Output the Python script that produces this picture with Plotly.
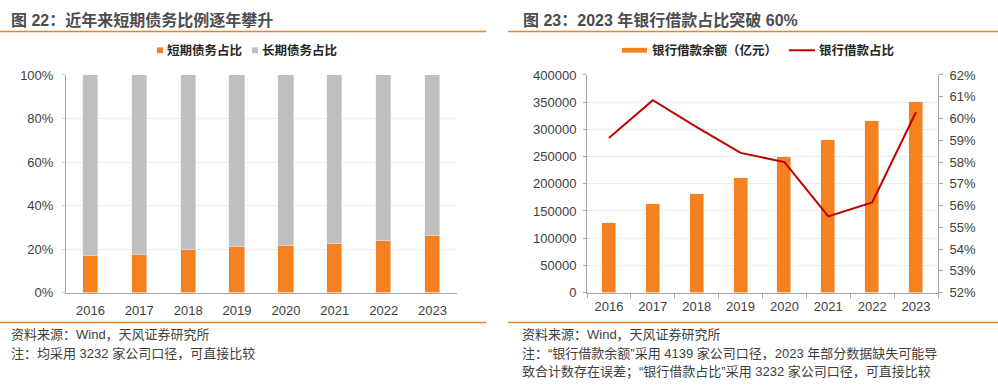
import plotly.graph_objects as go

W, H = 998, 391

years = ["2016", "2017", "2018", "2019", "2020", "2021", "2022", "2023"]
short_ratio = [0.168, 0.172, 0.196, 0.208, 0.214, 0.222, 0.236, 0.258]
long_ratio = [1 - v for v in short_ratio]
bank_loan = [128000, 162000, 181500, 210300, 249800, 280500, 315200, 350500]
bank_loan_ratio = [0.591, 0.6084, 0.596, 0.5842, 0.580, 0.555, 0.5614, 0.603]

title_left = "图 22：近年来短期债务比例逐年攀升"
title_right = "图 23：2023 年银行借款占比突破 60%"
legend_left = ["短期债务占比", "长期债务占比"]
legend_right = ["银行借款余额（亿元）", "银行借款占比"]
notes_left = ["资料来源：Wind，天风证券研究所", "注：均采用 3232 家公司口径，可直接比较"]
notes_right = ["资料来源：Wind，天风证券研究所",
               "注：“银行借款余额”采用 4139 家公司口径，2023 年部分数据缺失可能导",
               "致合计数存在误差；“银行借款占比”采用 3232 家公司口径，可直接比较"]

ORANGE = "#F5821F"
GRAY = "#BFBFBF"
RED = "#C00000"
LINE = "#E8822E"
AXIS = "#A6A6A6"
GRID = "#EDEDED"
TXT = "#404040"
FONT = "Liberation Sans, Noto Sans CJK SC, sans-serif"


def px(x):
    return x / W


def py(y):
    return 1 - y / H


fig = go.Figure()

fig.add_trace(go.Bar(x=years, y=short_ratio, name=legend_left[0], marker_color=ORANGE,
                     width=0.31, xaxis="x", yaxis="y", showlegend=False))
fig.add_trace(go.Bar(x=years, y=long_ratio, name=legend_left[1], marker_color=GRAY,
                     width=0.31, xaxis="x", yaxis="y", showlegend=False))
fig.add_trace(go.Bar(x=years, y=bank_loan, name=legend_right[0], marker_color=ORANGE,
                     width=0.32, xaxis="x2", yaxis="y2", showlegend=False))
fig.add_trace(go.Scatter(x=years, y=bank_loan_ratio, name=legend_right[1], mode="lines",
                         line=dict(color=RED, width=2), xaxis="x2", yaxis="y3", showlegend=False))

ydom = [py(297), py(70.7)]
tickfont = dict(family=FONT, size=13, color=TXT)

fig.update_layout(
    width=W, height=H, autosize=False,
    margin=dict(l=0, r=0, t=0, b=0),
    paper_bgcolor="white", plot_bgcolor="white",
    barmode="stack", bargap=0,
    font=dict(family=FONT, size=13, color=TXT),
    xaxis=dict(domain=[px(66), px(457)], anchor="y", type="category",
               showline=True, linecolor=AXIS, linewidth=1, ticks="",
               tickfont=tickfont, ticklabelstandoff=6, showgrid=False),
    yaxis=dict(domain=ydom, anchor="x", range=[0, 1], dtick=0.2, tickformat=".0%",
               showline=True, linecolor=AXIS, linewidth=1, ticks="outside",
               ticklen=3, tickcolor="#D0D0D0",
               gridcolor=GRID, gridwidth=1, zeroline=False,
               tickfont=tickfont, ticklabelstandoff=6),
    xaxis2=dict(domain=[px(587), px(938)], anchor="y2", type="category",
                showline=True, linecolor=AXIS, linewidth=1, ticks="outside",
                tickson="boundaries", ticklen=4, tickcolor=AXIS,
                tickfont=tickfont, ticklabelstandoff=2, showgrid=False),
    yaxis2=dict(domain=ydom, anchor="x2", range=[0, 400000], dtick=50000,
                tickformat="d", showline=True, linecolor=AXIS, linewidth=1,
                ticks="outside", ticklen=3, tickcolor=AXIS,
                gridcolor=GRID, gridwidth=1, zeroline=False,
                tickfont=tickfont, ticklabelstandoff=4),
    yaxis3=dict(domain=ydom, anchor="x2", overlaying="y2", side="right",
                range=[0.52, 0.62], dtick=0.01, tickformat=".0%",
                showline=True, linecolor=AXIS, linewidth=1,
                ticks="outside", ticklen=4, tickcolor=AXIS,
                showgrid=False, zeroline=False,
                tickfont=tickfont, ticklabelstandoff=4),
)

shapes = []
annotations = []

# title rules and footer rules
for x0, x1 in [(0, 486), (508, 998)]:
    shapes.append(dict(type="line", xref="paper", yref="paper", x0=px(x0), x1=px(x1),
                       y0=py(25.5), y1=py(25.5), line=dict(color=LINE, width=1.5)))
    shapes.append(dict(type="line", xref="paper", yref="paper", x0=px(x0), x1=px(x1),
                       y0=py(328), y1=py(328), line=dict(color=LINE, width=1.5)))

# titles
for x, t in [(9, title_left), (521, title_right)]:
    annotations.append(dict(xref="paper", yref="paper", x=px(x), y=py(13.5), xanchor="left",
                            yanchor="middle", showarrow=False, text="<b>" + t + "</b>",
                            font=dict(family=FONT, size=16, color="#4D4D4D")))

# left legend (square markers)
leg_font = dict(family=FONT, size=12.5, color="#262626")
for (x0, col, txt) in [(157, ORANGE, legend_left[0]), (252, GRAY, legend_left[1])]:
    shapes.append(dict(type="rect", xref="paper", yref="paper", x0=px(x0), x1=px(x0 + 6),
                       y0=py(48), y1=py(42), fillcolor=col, line=dict(width=0)))
    annotations.append(dict(xref="paper", yref="paper", x=px(x0 + 8), y=py(45), xanchor="left",
                            yanchor="middle", showarrow=False, text="<b>" + txt + "</b>",
                            font=leg_font))

# right legend
shapes.append(dict(type="rect", xref="paper", yref="paper", x0=px(622), x1=px(647),
                   y0=py(47.5), y1=py(42.5), fillcolor=ORANGE, line=dict(width=0)))
annotations.append(dict(xref="paper", yref="paper", x=px(650), y=py(45), xanchor="left",
                        yanchor="middle", showarrow=False, text="<b>" + legend_right[0] + "</b>",
                        font=leg_font))
shapes.append(dict(type="line", xref="paper", yref="paper", x0=px(789), x1=px(815),
                   y0=py(45), y1=py(45), line=dict(color=RED, width=2)))
annotations.append(dict(xref="paper", yref="paper", x=px(817), y=py(45), xanchor="left",
                        yanchor="middle", showarrow=False, text="<b>" + legend_right[1] + "</b>",
                        font=leg_font))

# footnotes
note_font = dict(family=FONT, size=13, color=TXT)
for i, t in enumerate(notes_left):
    annotations.append(dict(xref="paper", yref="paper", x=px(9), y=py(340.5 + 20 * i),
                            xanchor="left", yanchor="middle", showarrow=False, text=t,
                            font=note_font))
for i, t in enumerate(notes_right):
    annotations.append(dict(xref="paper", yref="paper", x=px(520), y=py(340.5 + 19.5 * i),
                            xanchor="left", yanchor="middle", showarrow=False, text=t,
                            font=note_font))

fig.update_layout(shapes=shapes, annotations=annotations)

post = ("var s='margin:0;padding:0;overflow:hidden;height:391px;';"
        "document.documentElement.style.cssText+=s;document.body.style.cssText+=s;")
fig.write_html("out.html", config={"displayModeBar": False}, post_script=post)
